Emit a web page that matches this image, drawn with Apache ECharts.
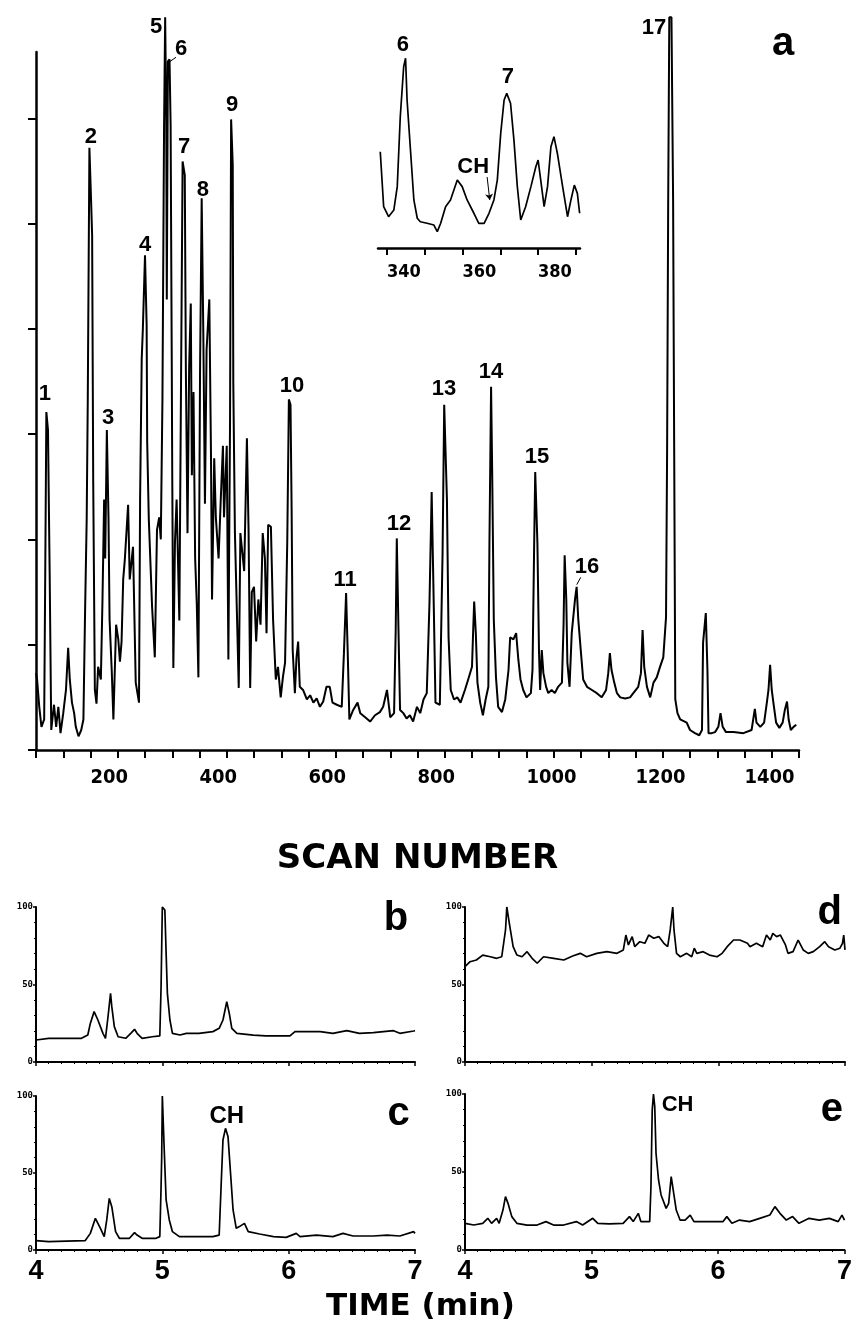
<!DOCTYPE html>
<html>
<head>
<meta charset="utf-8">
<script src="https://cdn.jsdelivr.net/npm/echarts@6/dist/echarts.min.js"></script>
<style>
  html, body { margin: 0; background: #fff; }
  #chart { width: 855px; height: 1330px; }
</style>
</head>
<body>
<div id="chart"></div>
<script>
// panel a: total ion chromatogram (scan number vs relative signal)
const mainScan = [
  100, 102, 106, 110, 115, 117, 119, 122, 125, 128,
  133, 137, 141, 145, 150, 155, 159, 162, 166, 170, 173, 178, 183, 187,
  190, 193, 195, 198, 201, 203, 205, 208, 211, 214, 219,
  222, 225, 227, 230, 233, 235, 239, 242, 247, 251, 254,
  257, 260, 263, 269, 272, 278, 283, 289, 291, 294, 296,
  300, 303, 304, 307, 313, 318, 322, 326, 329, 332,
  335, 337, 339, 340, 342, 345, 347, 349, 350, 352,
  355, 358, 363, 366, 369,
  373, 375, 378, 381, 384, 386, 389, 392, 395, 398,
  401, 404, 407, 410, 413, 418, 421, 423,
  427, 430, 435, 439, 443, 445, 450, 453, 456,
  458, 461, 462, 465, 469, 472, 475, 482, 487, 490, 493,
  496, 500, 504, 508, 512, 516, 520, 523, 526, 531,
  535, 540, 544, 549, 553, 557, 561, 564, 567, 569, 571,
  575, 578, 581, 584, 590, 597, 603, 609, 615, 621, 627, 633, 639, 644, 652, 661,
  665, 669, 672, 675, 682, 690, 695, 704, 713, 722, 731, 737, 744, 750, 757,
  760, 762, 765, 768, 774, 780, 786, 792, 799, 805, 811, 817,
  822, 826, 830, 833, 841, 846, 849, 854, 857, 861, 867, 873, 879,
  887, 893, 900, 902, 904, 907, 910, 915, 920, 925, 930,
  932, 935, 937, 940, 944, 948, 955, 961, 967, 970, 976, 981, 985, 989, 994, 1000, 1008,
  1011, 1014, 1016, 1020, 1023, 1025, 1028, 1031, 1036, 1040, 1046, 1052, 1058, 1065,
  1068, 1070, 1073, 1075, 1079, 1083, 1089, 1092, 1095, 1100, 1104, 1111, 1120, 1129, 1138,
  1146, 1150, 1153, 1156, 1161, 1166, 1172, 1181, 1190, 1196, 1205, 1210, 1213, 1216, 1221, 1227, 1233, 1239, 1245, 1251, 1256,
  1258, 1260, 1262, 1266, 1269, 1271, 1273, 1277, 1282, 1294, 1300, 1309, 1317, 1322,
  1324, 1329, 1332, 1334, 1340, 1346, 1352, 1356, 1360, 1366, 1380, 1398,
  1413, 1416, 1419, 1422, 1429, 1436, 1441, 1444, 1447, 1450, 1453, 1458, 1464, 1470, 1474, 1478, 1481, 1485, 1490, 1495,
]
const mainSignal = [
  7.3, 6.7, 4.1, 2.2, 2.9, 17.1, 32.1, 30.4, 17.1, 1.9,
  4.3, 2.2, 4.1, 1.6, 3.5, 5.7, 9.7, 6.7, 4.5, 3.5, 2.2, 1.3, 1.9, 2.9,
  13.0, 21.9, 33.3, 57.2, 52.3, 48.9, 25.4, 5.7, 4.4, 7.9, 6.7,
  14.3, 23.8, 18.2, 30.4, 22.1, 12.4, 7.5, 2.9, 11.9, 10.5, 8.4,
  10.3, 16.2, 18.1, 23.3, 16.2, 19.3, 6.4, 4.5, 23.8, 37.2, 39.9,
  47.0, 40.4, 29.3, 21.9, 13.6, 8.8, 20.9, 22.1, 20.0, 33.3,
  59.4, 69.6, 59.9, 42.8, 65.4, 65.6, 59.4, 38.0, 26.1, 7.8,
  19.8, 23.8, 12.3, 34.0, 55.9,
  54.6, 36.0, 20.6, 36.4, 42.4, 26.1, 34.0, 18.2, 13.9, 6.9,
  36.0, 52.4, 39.6, 23.4, 38.0, 42.8, 28.5, 14.3,
  27.7, 22.1, 18.2, 23.8, 28.9, 22.1, 28.9, 8.6, 30.9,
  59.9, 55.6, 34.9, 20.6, 12.3, 5.9, 20.6, 17.0, 29.6, 21.0, 5.9,
  15.0, 15.5, 10.3, 14.3, 11.9, 20.6, 18.2, 11.1, 21.4, 21.2,
  12.4, 6.7, 7.9, 5.0, 6.9, 8.3, 19.7, 33.3, 32.8, 23.1, 9.5,
  5.4, 8.8, 10.3, 6.0, 5.7, 4.8, 5.2, 4.5, 4.9, 4.1, 4.6, 6.0, 6.0, 4.5, 4.3, 4.1,
  9.2, 14.9, 9.2, 2.9, 3.8, 4.5, 3.5, 3.1, 2.7, 3.3, 3.6, 4.1, 5.7, 3.1, 3.5,
  11.4, 20.1, 11.7, 3.8, 3.5, 3.0, 3.3, 2.7, 4.1, 3.5, 4.8, 5.4,
  14.0, 24.5, 13.3, 4.5, 4.3, 18.7, 32.8, 23.8, 10.7, 5.7, 4.8, 5.0, 4.5,
  5.7, 6.7, 7.9, 11.1, 14.1, 11.1, 6.4, 4.5, 3.3, 4.8, 6.0,
  19.7, 34.5, 26.6, 12.4, 6.9, 4.1, 3.6, 4.8, 7.6, 10.7, 10.5, 11.1, 8.6, 6.7, 5.7, 5.0, 5.4,
  7.6, 19.3, 26.4, 19.7, 9.2, 5.7, 9.5, 7.3, 6.0, 5.4, 5.7, 5.4, 6.0, 6.4,
  11.9, 18.5, 14.3, 8.3, 6.0, 11.1, 14.3, 15.5, 12.4, 9.2, 6.7, 6.0, 5.7, 5.4, 5.0,
  5.7, 7.3, 9.2, 7.6, 6.4, 5.4, 5.0, 4.9, 5.0, 5.4, 6.0, 7.3, 11.4, 7.9, 6.0, 5.0, 6.4, 6.9, 7.9, 8.8, 12.6,
  28.5, 52.3, 69.6, 69.6, 52.3, 28.5, 4.8, 3.5, 2.9, 2.6, 1.9, 1.6, 1.4, 1.9,
  10.2, 13.0, 7.6, 1.6, 1.6, 1.7, 2.2, 3.5, 2.2, 1.7, 1.7, 1.6,
  1.9, 2.9, 3.9, 2.6, 2.2, 2.6, 4.5, 5.7, 8.1, 5.7, 4.5, 2.6, 2.1, 2.6, 3.8, 4.6, 2.9, 1.9, 2.2, 2.4,
]
const peakText = ['1', '2', '3', '4', '5', '6', '7', '8', '9', '10', '11', '12', '13', '14', '15', '16', '17']
const peakTextScan = [116.5, 200.9, 232.1, 300, 320.2, 366.1, 371.6, 406.4, 459.7, 569.8, 667, 766.1, 848.7, 934.9, 1019.3, 1111.1, 1234]
const peakTextSignal = [33.8, 58.2, 31.5, 48.0, 68.7, 66.6, 57.3, 53.2, 61.3, 34.6, 16.2, 21.5, 34.3, 35.9, 27.8, 17.4, 68.6]
const mainTicks = [0, 10, 20, 30, 40, 50, 60]

// inset: zoom on scans 338-391
const insetScan = [
  338.2, 339.1, 340.4, 341.8, 342.7, 343.5, 344.4, 344.9, 345.3, 346.2,
  347.1, 348.0, 348.8, 350.6, 352.4, 353.3, 354.2, 355.5, 356.8, 358.6,
  359.9, 361.2, 363.0, 364.3, 365.7, 367.0, 368.3, 369.2, 370.1, 371.0,
  371.7, 372.7, 373.6, 374.5, 375.4, 376.7, 378.1, 379.4, 380.0, 380.7,
  381.6, 382.5, 383.4, 384.2, 385.1, 386.5, 387.8, 388.7, 389.6, 390.4, 391.0,
]
const insetSignal = [
  49.9, 21.4, 16.2, 19.7, 31.8, 68.0, 93.9, 98.3, 76.7, 50.8,
  24.9, 15.4, 13.6, 12.8, 11.9, 8.5, 12.8, 21.4, 24.9, 35.2,
  31.8, 24.9, 18.0, 12.8, 12.8, 18.0, 24.9, 35.2, 59.4, 76.7,
  80.1, 75.0, 56.0, 31.8, 14.5, 21.4, 31.8, 42.1, 45.6, 35.2,
  21.4, 31.8, 52.5, 57.7, 49.1, 31.8, 16.2, 24.9, 32.6, 28.3, 18.0,
]
const insetTicks = [340, 350, 360, 370, 380, 390]
const insetLabels = [340, 360, 380]

// panels b-e: ion traces, time (min) vs relative abundance (%)
const timeB = [
  4.00, 4.10, 4.24, 4.36, 4.41, 4.43, 4.46, 4.49, 4.53, 4.55,
  4.57, 4.59, 4.60, 4.62, 4.65, 4.71, 4.75, 4.78, 4.80, 4.84,
  4.92, 4.98, 4.99, 5.00, 5.02, 5.03, 5.04, 5.06, 5.08, 5.14,
  5.19, 5.29, 5.40, 5.45, 5.48, 5.51, 5.53, 5.55, 5.59, 5.72,
  5.82, 5.93, 6.01, 6.05, 6.14, 6.25, 6.35, 6.46, 6.56, 6.67,
  6.83, 6.88, 6.99, 7.00,
]
const signalB = [
  14.2, 15.3, 15.3, 15.3, 17.4, 24.9, 32.5, 27.1, 18.5, 15.3,
  29.2, 44.3, 35.7, 22.8, 16.3, 15.3, 18.5, 21.1, 18.5, 15.3,
  16.3, 16.8, 48.6, 100, 98.1, 70.1, 44.3, 27.1, 18.5, 17.4,
  18.5, 18.5, 19.6, 21.7, 27.1, 38.9, 31.4, 21.7, 18.5, 17.4,
  16.8, 16.8, 16.8, 19.6, 19.6, 19.6, 18.5, 20.2, 18.5, 19.0,
  20.2, 18.5, 20.0, 20.2,
]
const timeC = [
  4.00, 4.10, 4.24, 4.39, 4.43, 4.47, 4.51, 4.54, 4.56, 4.58,
  4.60, 4.63, 4.66, 4.74, 4.78, 4.80, 4.84, 4.95, 4.98, 4.99,
  4.995, 5.00, 5.016, 5.03, 5.055, 5.08, 5.135, 5.21, 5.29, 5.40,
  5.45, 5.465, 5.48, 5.50, 5.52, 5.54, 5.56, 5.585, 5.61, 5.65,
  5.68, 5.77, 5.88, 5.98, 6.06, 6.09, 6.22, 6.35, 6.43, 6.51,
  6.67, 6.78, 6.88, 6.99, 7.00,
]
const signalC = [
  6.1, 5.4, 5.8, 6.1, 10.8, 20.6, 14.1, 8.7, 19.5, 33.5,
  28.1, 11.9, 7.6, 7.6, 11.3, 9.7, 7.6, 7.6, 8.7, 41.1,
  60.6, 100, 62.8, 32.5, 19.5, 11.9, 8.7, 8.7, 8.7, 8.7,
  9.7, 41.1, 71.4, 79.0, 73.6, 49.8, 26.0, 14.1, 15.2, 17.3,
  11.9, 10.4, 8.7, 8.2, 10.8, 8.7, 9.7, 8.7, 10.8, 9.1,
  9.1, 9.7, 9.1, 11.9, 10.8,
]
const timeD = [
  4.00, 4.04, 4.09, 4.14, 4.20, 4.25, 4.29, 4.32, 4.33, 4.35,
  4.38, 4.41, 4.45, 4.49, 4.53, 4.57, 4.62, 4.70, 4.78, 4.85,
  4.91, 4.96, 5.04, 5.12, 5.20, 5.25, 5.27, 5.29, 5.32, 5.34,
  5.38, 5.42, 5.45, 5.49, 5.53, 5.57, 5.60, 5.62, 5.64, 5.65,
  5.67, 5.70, 5.75, 5.79, 5.81, 5.83, 5.88, 5.93, 5.99, 6.03,
  6.07, 6.12, 6.17, 6.23, 6.25, 6.30, 6.35, 6.38, 6.41, 6.43,
  6.46, 6.49, 6.53, 6.55, 6.59, 6.63, 6.67, 6.71, 6.75, 6.80,
  6.84, 6.87, 6.92, 6.96, 6.98, 6.99, 7.00,
]
const signalD = [
  61.5, 64.7, 65.8, 69.0, 67.9, 66.9, 67.9, 85.2, 100, 89.5,
  74.4, 69.0, 67.9, 71.2, 66.9, 63.7, 67.9, 66.9, 65.8, 68.4,
  70.1, 67.9, 70.1, 71.2, 70.1, 72.3, 81.9, 75.5, 80.9, 74.4,
  77.6, 76.6, 81.9, 79.8, 80.9, 76.6, 74.4, 85.2, 100, 85.2,
  70.1, 67.9, 70.1, 67.9, 73.4, 70.1, 71.2, 69.0, 67.9, 70.1,
  74.4, 78.7, 78.7, 76.6, 74.4, 76.6, 74.4, 81.9, 78.7, 83.0,
  80.9, 81.9, 75.5, 70.1, 71.2, 78.7, 72.3, 70.1, 71.2, 74.4,
  77.6, 74.4, 72.3, 73.4, 76.6, 81.9, 72.3,
]
const timeE = [
  4.00, 4.07, 4.14, 4.18, 4.21, 4.25, 4.27, 4.30, 4.32, 4.34,
  4.37, 4.41, 4.49, 4.57, 4.64, 4.70, 4.78, 4.88, 4.93, 5.01,
  5.05, 5.14, 5.25, 5.30, 5.33, 5.37, 5.39, 5.46, 5.47, 5.48,
  5.49, 5.50, 5.51, 5.53, 5.55, 5.59, 5.61, 5.63, 5.65, 5.67,
  5.70, 5.74, 5.78, 5.81, 5.88, 5.96, 6.04, 6.07, 6.11, 6.17,
  6.25, 6.33, 6.41, 6.45, 6.49, 6.54, 6.59, 6.64, 6.72, 6.80,
  6.88, 6.95, 6.98, 7.00,
]
const signalE = [
  17.1, 16.0, 17.1, 20.3, 17.1, 20.3, 17.1, 25.6, 34.2, 29.9,
  21.4, 17.1, 16.0, 16.0, 18.2, 16.0, 16.0, 18.2, 16.0, 20.3,
  17.1, 16.7, 17.1, 21.4, 18.2, 23.5, 18.2, 18.2, 40.6, 89.7,
  100, 91.9, 62.0, 44.9, 35.3, 26.7, 29.9, 47.0, 36.3, 25.6,
  19.2, 19.2, 22.4, 18.2, 18.2, 18.2, 18.2, 21.4, 17.1, 19.2,
  18.2, 20.3, 22.4, 27.8, 23.5, 19.2, 21.4, 17.1, 20.3, 19.2,
  20.3, 18.2, 22.4, 19.2,
]

const zip = (xs, ys) => xs.map((x, i) => [x, ys[i]])
const black = '#000'
const labelFont = 'Liberation Sans, Arial, sans-serif'
const scanFont = "'Liberation Sans Narrow', 'DejaVu Sans Condensed', sans-serif"

const chart = echarts.init(document.getElementById('chart'), null, { renderer: 'canvas' })

const trace = (xi, data, width) => ({
  type: 'line',
  xAxisIndex: xi,
  yAxisIndex: xi,
  data,
  showSymbol: false,
  clip: false,
  silent: true,
  lineStyle: { color: black, width: width || 1.7 },
})

// text placed at data coordinates of a grid, no visible marker
const textMarks = (xi, data, size) => ({
  type: 'scatter',
  xAxisIndex: xi,
  yAxisIndex: xi,
  clip: false,
  silent: true,
  symbolSize: 1,
  itemStyle: { color: 'rgba(0,0,0,0)', opacity: 1 },
  label: {
    show: true,
    position: 'inside',
    formatter: (p) => p.data[2],
    color: black,
    opacity: 1,
    fontFamily: labelFont,
    fontWeight: 'bold',
    fontSize: size,
  },
  data,
})

const panelX = (gi, showLabels) => ({
  gridIndex: gi,
  type: 'value',
  min: 4,
  max: 7,
  interval: 1,
  axisLine: { lineStyle: { color: black, width: 2 } },
  axisTick: { length: 4, lineStyle: { color: black, width: 1.5 } },
  minorTick: { show: true, splitNumber: 10, length: 2, lineStyle: { color: black, width: 1 } },
  axisLabel: {
    show: showLabels,
    margin: 8,
    color: black,
    fontFamily: labelFont,
    fontWeight: 'bold',
    fontSize: 27,
  },
  splitLine: { show: false },
})

const panelY = (gi) => ({
  gridIndex: gi,
  type: 'value',
  min: 0,
  max: 100,
  interval: 50,
  axisLine: { show: true, lineStyle: { color: black, width: 2 } },
  axisTick: { show: true, length: 3, lineStyle: { color: black, width: 1.5 } },
  minorTick: { show: true, splitNumber: 5, length: 2, lineStyle: { color: black, width: 1 } },
  axisLabel: {
    margin: 3,
    color: black,
    fontFamily: "'DejaVu Sans Mono', monospace",
    fontWeight: 'bold',
    fontSize: 9,
  },
  splitLine: { show: false },
})

chart.setOption({
  animation: false,
  backgroundColor: '#fff',
  title: {
    text: 'TIME (min)',
    left: 326,
    top: 1291,
    padding: 0,
    textStyle: { color: black, fontFamily: 'DejaVu Sans', fontWeight: 'bold', fontSize: 31 },
  },
  grid: [
    { left: 36, top: 52, width: 763, height: 698 },
    { left: 378, top: 55, width: 202, height: 193 },
    { left: 36, top: 907, width: 379, height: 155 },
    { left: 36, top: 1096, width: 379, height: 154 },
    { left: 465, top: 907, width: 380, height: 155 },
    { left: 465, top: 1094, width: 380, height: 156 },
  ],
  xAxis: [
    {
      gridIndex: 0,
      type: 'value',
      min: 100,
      max: 1500,
      interval: 50,
      axisLine: { lineStyle: { color: black, width: 2.5 } },
      axisTick: { length: 8, lineStyle: { color: black, width: 2 } },
      axisLabel: {
        formatter: (v) => (v % 200 === 0 ? String(v) : ''),
        align: 'left',
        margin: 18,
        color: black,
        fontFamily: scanFont,
        fontWeight: 'bold',
        fontSize: 20,
      },
      splitLine: { show: false },
      name: 'SCAN NUMBER',
      nameLocation: 'middle',
      nameGap: 92,
      nameTextStyle: { color: black, fontFamily: 'DejaVu Sans', fontWeight: 'bold', fontSize: 34 },
    },
    {
      gridIndex: 1,
      type: 'value',
      min: 337.6,
      max: 391.1,
      axisLine: { lineStyle: { color: black, width: 2.5 } },
      axisTick: { length: 7, customValues: insetTicks, lineStyle: { color: black, width: 2 } },
      axisLabel: {
        customValues: insetLabels,
        align: 'left',
        margin: 15,
        color: black,
        fontFamily: scanFont,
        fontWeight: 'bold',
        fontSize: 18,
      },
      splitLine: { show: false },
    },
    panelX(2, false),
    panelX(3, true),
    panelX(4, false),
    panelX(5, true),
  ],
  yAxis: [
    {
      gridIndex: 0,
      type: 'value',
      min: 0,
      max: 66.3,
      interval: 10,
      axisLine: { show: true, lineStyle: { color: black, width: 2.5 } },
      axisTick: { show: true, length: 8, customValues: mainTicks, lineStyle: { color: black, width: 2 } },
      axisLabel: { show: false },
      splitLine: { show: false },
    },
    { gridIndex: 1, type: 'value', min: 0, max: 100, show: false },
    panelY(2),
    panelY(3),
    panelY(4),
    panelY(5),
  ],
  series: [
    trace(0, zip(mainScan, mainSignal), 2),
    {
      ...textMarks(0, peakTextScan.map((s, i) => [s, peakTextSignal[i], peakText[i]]), 22),
      markLine: {
        silent: true,
        symbol: ['none', 'none'],
        label: { show: false },
        lineStyle: { color: black, width: 1, type: 'solid', opacity: 1 },
        data: [
          [{ coord: [356.9, 65.8] }, { coord: [345.9, 65.4] }],
          [{ coord: [1099.5, 16.4] }, { coord: [1092.2, 15.7] }],
        ],
      },
    },
    textMarks(0, [[1470.7, 67.1, 'a']], 40),
    {
      ...trace(1, zip(insetScan, insetSignal), 1.7),
      markLine: {
        silent: true,
        symbol: ['none', 'arrow'],
        symbolSize: 6,
        label: { show: false },
        lineStyle: { color: black, width: 1, type: 'solid', opacity: 1 },
        data: [[{ coord: [366.5, 36.8] }, { coord: [367.2, 24.9] }]],
      },
    },
    textMarks(1, [[344.2, 105.2, '6'], [372.0, 88.6, '7'], [362.8, 42.0, 'CH']], 22),
    trace(2, zip(timeB, signalB)),
    trace(3, zip(timeC, signalC)),
    trace(4, zip(timeD, signalD)),
    trace(5, zip(timeE, signalE)),
    textMarks(2, [[6.85, 92.3, 'b']], 40),
    textMarks(3, [[6.87, 88.3, 'c']], 40),
    textMarks(3, [[5.51, 87.0, 'CH']], 24),
    textMarks(4, [[6.88, 96.1, 'd']], 40),
    textMarks(5, [[6.90, 89.7, 'e']], 40),
    textMarks(5, [[5.68, 92.9, 'CH']], 22),
  ],
})
</script>
</body>
</html>
